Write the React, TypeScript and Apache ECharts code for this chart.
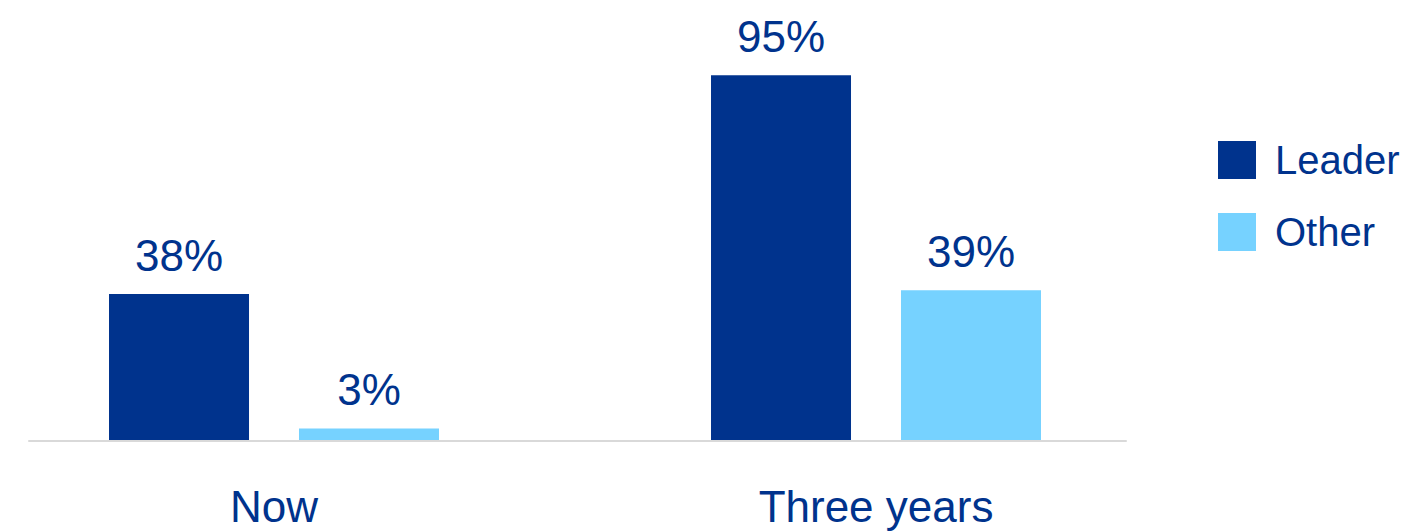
import React, { useEffect, useRef } from "react";
import * as echarts from "echarts";

const categories = ["Now", "Three years"];
const leaderValues = [38, 95];
const otherValues = [3, 39];
const seriesNames = ["Leader", "Other"];

const DARK = "#00338D";
const LIGHT = "#76D2FF";
const FONT = "Liberation Sans, Arial, sans-serif";
const SHIFT = 30;

export default function App() {
  const ref = useRef<HTMLDivElement>(null);
  useEffect(() => {
    if (!ref.current) return;
    const chart = echarts.init(ref.current, undefined, { renderer: "svg" });
    const label = {
      show: true,
      position: "top",
      distance: 17,
      formatter: "{c}%",
      color: DARK,
      fontSize: 44,
      fontFamily: FONT,
    };
    chart.setOption({
      animation: false,
      backgroundColor: "#ffffff",
      legend: {
        orient: "vertical",
        left: 1213 + SHIFT,
        top: 135,
        itemWidth: 38,
        itemHeight: 38,
        itemGap: 32,
        icon: "rect",
        data: seriesNames,
        textStyle: {
          color: DARK,
          fontSize: 40,
          fontFamily: FONT,
          padding: [0, 0, 0, 14],
        },
      },
      grid: [
        { left: SHIFT - 27, right: 236, top: 56, bottom: 91 },
        { left: SHIFT + 29, right: 287, top: 56, bottom: 90 },
      ],
      xAxis: [
        {
          type: "category",
          gridIndex: 0,
          data: categories,
          axisLine: { show: false },
          axisTick: { show: false },
          axisLabel: {
            color: DARK,
            fontSize: 44,
            fontFamily: FONT,
            margin: 44,
          },
        },
        {
          type: "value",
          gridIndex: 1,
          min: 0,
          max: 1,
          axisLine: { show: true, onZero: false, lineStyle: { color: "#d9d9d9", width: 2 } },
          axisTick: { show: false },
          axisLabel: { show: false },
          splitLine: { show: false },
        },
      ],
      yAxis: [
        { type: "value", gridIndex: 0, min: 0, max: 100, show: false },
        { type: "value", gridIndex: 1, min: 0, max: 1, show: false },
      ],
      series: [
        {
          name: seriesNames[0],
          type: "bar",
          xAxisIndex: 0,
          yAxisIndex: 0,
          data: leaderValues,
          barWidth: 140,
          barGap: "35.7%",
          itemStyle: { color: DARK },
          label,
          z: 3,
        },
        {
          name: seriesNames[1],
          type: "bar",
          xAxisIndex: 0,
          yAxisIndex: 0,
          data: otherValues,
          barWidth: 140,
          barGap: "35.7%",
          itemStyle: { color: LIGHT },
          label,
          z: 3,
        },
      ],
    });
    return () => chart.dispose();
  }, []);
  return (
    <div
      ref={ref}
      style={{ position: "absolute", left: -SHIFT, top: 0, width: 1413 + SHIFT, height: 531 }}
    />
  );
}
